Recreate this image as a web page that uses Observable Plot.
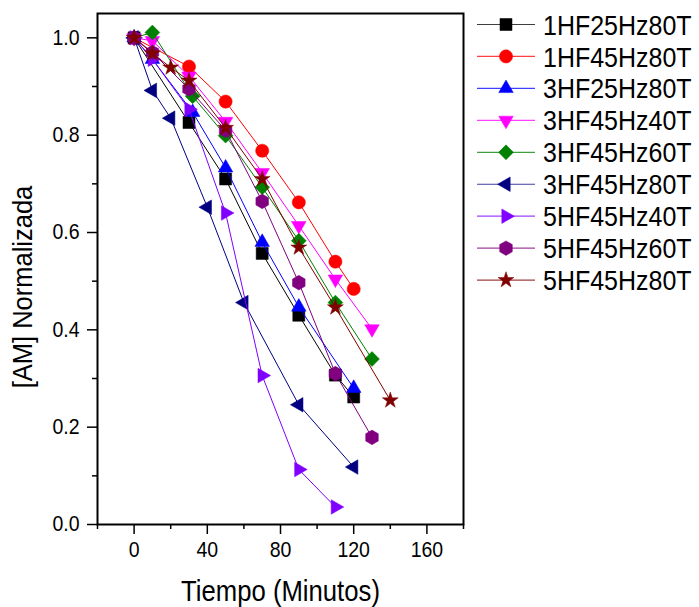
<!DOCTYPE html>
<html><head><meta charset="utf-8">
<script src="https://cdn.jsdelivr.net/npm/d3@7"></script>
<script src="https://cdn.jsdelivr.net/npm/@observablehq/plot@0.6"></script>
<style>
body{margin:0;background:#fff;}
#chart{width:699px;height:607px;}
svg{font-family:Arial,"Liberation Sans",sans-serif;}
</style>
</head><body><div id="chart"></div>
<script>
// ---- data ----
const seriesNames = ["1HF25Hz80T","1HF45Hz80T","3HF25Hz80T","3HF45Hz40T","3HF45Hz60T","3HF45Hz80T","5HF45Hz40T","5HF45Hz60T","5HF45Hz80T"];
const t1 = [0,30,50,70,90,110,120];
const v1 = [1.0,0.826,0.71,0.557,0.43,0.307,0.262];
const t2 = [0,30,50,70,90,110,120];
const v2 = [1.0,0.941,0.869,0.768,0.662,0.54,0.484];
const t3 = [0,10,32,50,70,90,120];
const v3 = [1.0,0.956,0.847,0.733,0.58,0.447,0.28];
const t4 = [0,10,30,50,70,90,110,130];
const v4 = [1.0,0.994,0.921,0.828,0.723,0.614,0.504,0.402];
const t5 = [0,10,32,50,70,90,110,130];
const v5 = [1.0,1.011,0.88,0.799,0.693,0.583,0.456,0.34];
const t6 = [0,10,20,40,60,90,120];
const v6 = [1.0,0.892,0.835,0.652,0.456,0.246,0.118];
const t7 = [0,10,30,50,70,90,110];
const v7 = [1.0,0.956,0.853,0.64,0.306,0.113,0.036];
const t8 = [0,10,30,50,70,90,110,130];
const v8 = [1.0,0.97,0.895,0.81,0.664,0.497,0.31,0.179];
const t9 = [0,10,20,30,50,70,90,110,140];
const v9 = [1.0,0.968,0.939,0.912,0.815,0.71,0.569,0.446,0.255];
const times = [t1,t2,t3,t4,t5,t6,t7,t8,t9];
const values = [v1,v2,v3,v4,v5,v6,v7,v8,v9];
const xTicks = [0,40,80,120,160];
const xMinor = [-20,20,60,100,140,180];
const yTicks = [0,0.2,0.4,0.6,0.8,1.0];
const yTickLabels = ["0.0","0.2","0.4","0.6","0.8","1.0"];
const yMinor = [0.1,0.3,0.5,0.7,0.9];
const xLabel = "Tiempo (Minutos)";
const yLabel = "[AM] Normalizada";

// ---- styles ----
const colors = ["#000000","#ff0000","#0000ff","#ff00ff","#008000","#000080","#8000ff","#800080","#800000"];
const hexagon = {draw(ctx, size){ const rx = Math.sqrt(size/Math.PI), ry = rx*Math.sqrt(4/3), hy = ry/2;
  ctx.moveTo(0,ry); ctx.lineTo(rx,hy); ctx.lineTo(rx,-hy); ctx.lineTo(0,-ry); ctx.lineTo(-rx,-hy); ctx.lineTo(-rx,hy); ctx.closePath(); }};
const symbols = [d3.symbolSquare, d3.symbolCircle, d3.symbolTriangle, d3.symbolTriangle, d3.symbolDiamond2, d3.symbolTriangle, d3.symbolTriangle, hexagon, d3.symbolStar];
const rotations = [0,0,0,180,0,-90,90,0,0];
const radii = [6.8,6.6,5.4,5.4,6.7,5.4,5.4,6.3,5.0];
const textStretch = 1.12;

const rows = seriesNames.map((name,i)=> times[i].map((t,j)=>({series:name, t, v: values[i][j]})));

const marks = [];
rows.forEach((data,i)=>{
  marks.push(Plot.line(data,{x:"t", y:"v", stroke: colors[i], strokeWidth: 1}));
  marks.push(Plot.dot(data,{x:"t", y:"v", symbol: symbols[i], r: radii[i], fill: colors[i], stroke: colors[i], strokeWidth: 0.5, rotate: rotations[i]}));
});

const W = 699, H = 607, ML = 97, MT = 13, MR = 236, MB = 83;
const chart = Plot.plot({
  width: W, height: H,
  marginLeft: ML, marginTop: MT, marginRight: MR, marginBottom: MB,
  x: {domain: [-20,180], label: null},
  y: {domain: [0,1.05], label: null},
  style: {fontFamily: "Arial, 'Liberation Sans', sans-serif", color: "#000", background: "#fff"},
  marks: [
    Plot.axisX(xMinor, {tickSize: 5, text: null, strokeWidth: 1.5, label: null}),
    Plot.axisX(xTicks, {tickSize: 10, tickPadding: 7, fontSize: 19.5, strokeWidth: 1.5, label: null}),
    Plot.axisY(yMinor, {tickSize: 5, text: null, strokeWidth: 1.5, label: null}),
    Plot.axisY(yTicks, {tickSize: 10, tickPadding: 8, fontSize: 19.5, strokeWidth: 1.5, tickFormat: (d)=>yTickLabels[yTicks.indexOf(d)], label: null}),
    ...marks,
    Plot.frame({stroke: "#000", strokeWidth: 2}),
    Plot.text([xLabel], {frameAnchor: "bottom", textAnchor: "middle", lineAnchor: "bottom", dy: 76, fontSize: 25.7, fill: "#000"}),
    Plot.text([yLabel], {frameAnchor: "left", textAnchor: "middle", lineAnchor: "middle", dx: -75, dy: 18, rotate: -90, fontSize: 25.5, fill: "#000"})
  ]
});
document.getElementById("chart").appendChild(chart);

// stretch glyphs vertically a little, like the reference rendering
d3.select(chart).selectAll("text").each(function(){
  const t = this.getAttribute("transform");
  if (t) this.setAttribute("transform", t + ` scale(1,${textStretch})`);
});

// ---- legend ----
const svg = d3.select(chart);
const lg = svg.append("g").attr("aria-label","legend").attr("text-anchor","start");
const lx0 = 477, lx1 = 535, lmx = 506, ltx = 543, ly0 = 24.5, ldy = 31.95;
seriesNames.forEach((name,i)=>{
  const y = ly0 + i*ldy;
  const g = lg.append("g");
  g.append("line").attr("x1",lx0).attr("x2",lx1).attr("y1",y).attr("y2",y).attr("stroke",colors[i]).attr("stroke-width",1.2).attr("opacity",0.75);
  g.append("path").attr("d", d3.symbol().type(symbols[i]).size(Math.PI*radii[i]*radii[i])())
    .attr("transform",`translate(${lmx},${y}) rotate(${rotations[i]})`).attr("fill",colors[i]).attr("stroke",colors[i]).attr("stroke-width",0.5);
  g.append("text").attr("transform",`translate(${ltx},${y}) scale(1,${textStretch})`).attr("dy","0.36em")
    .attr("font-size",25).attr("fill","#000").attr("text-anchor","start").text(name);
});
</script>
</body></html>
